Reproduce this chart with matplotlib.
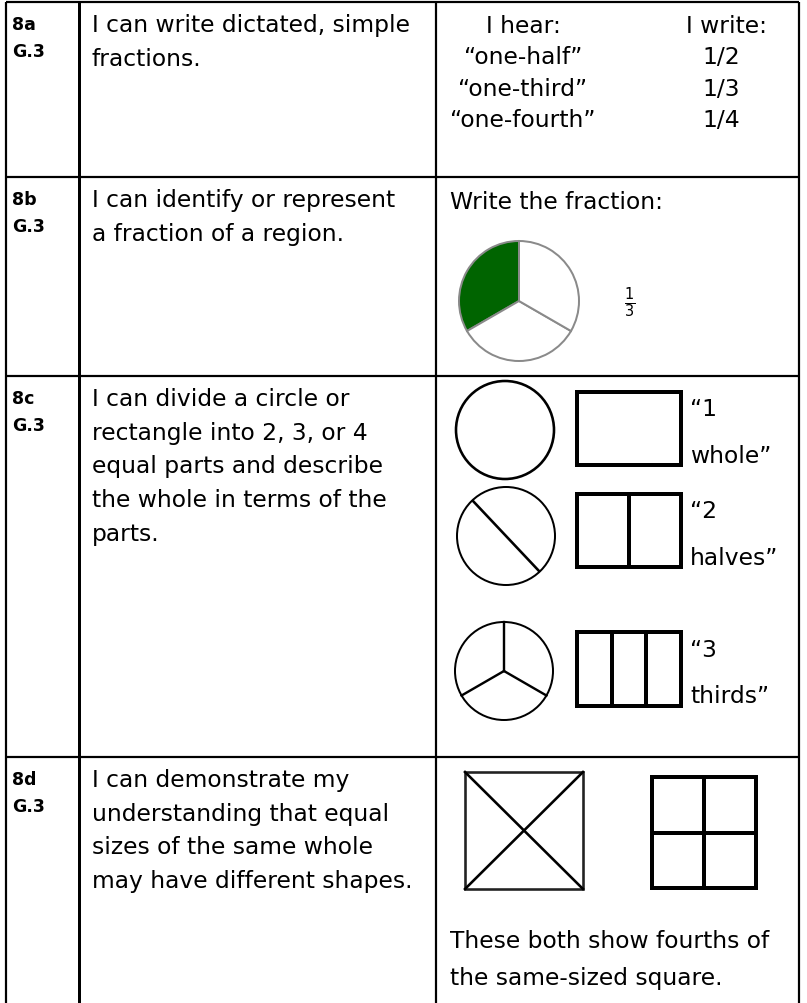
import numpy as np
import matplotlib.pyplot as plt
from matplotlib.patches import Circle, Rectangle, Wedge

# table content
codes = ['8a', '8b', '8c', '8d']
standard = ['G.3', 'G.3', 'G.3', 'G.3']
statements = [
    ['I can write dictated, simple', 'fractions.'],
    ['I can identify or represent', 'a fraction of a region.'],
    ['I can divide a circle or', 'rectangle into 2, 3, or 4',
     'equal parts and describe', 'the whole in terms of the', 'parts.'],
    ['I can demonstrate my', 'understanding that equal',
     'sizes of the same whole', 'may have different shapes.'],
]
heard = ['\u201cone-half\u201d', '\u201cone-third\u201d', '\u201cone-fourth\u201d']
written = ['1/2', '1/3', '1/4']
pie_parts = [1, 1, 1]
pie_shaded = [True, False, False]
part_counts = [1, 2, 3]
part_names = [('\u201c1', 'whole\u201d'), ('\u201c2', 'halves\u201d'), ('\u201c3', 'thirds\u201d')]
note = ['These both show fourths of', 'the same-sized square.']

W, H = 807, 1004
fig = plt.figure(figsize=(W / 100, H / 100), dpi=100)
ax = fig.add_axes([0, 0, 1, 1])
ax.set_xlim(0, W)
ax.set_ylim(H, 0)
ax.axis('off')

px = 0.72  # points per pixel at dpi 100
fs = 16.8
col_x = [6, 79, 436, 799]
row_y = [3, 178, 377, 758, H + 5]

# grid lines
for i, x in enumerate(col_x):
    ax.plot([x, x], [row_y[0], H + 5], color='black', lw=(3 if i == 1 else 2.2) * px,
            solid_capstyle='butt')
for y in row_y[:-1]:
    ax.plot([col_x[0], col_x[-1]], [y, y], color='black', lw=2.2 * px, solid_capstyle='butt')

# left two columns
for r, top in enumerate(row_y[:-1]):
    ax.text(12, top + 27, codes[r], fontsize=12.5, fontweight='bold', va='baseline')
    ax.text(12, top + 54, standard[r], fontsize=12.5, fontweight='bold', va='baseline')
    for k, line in enumerate(statements[r]):
        ax.text(92, top + 29 + k * 33.7, line, fontsize=fs, va='baseline')

# row a: I hear / I write
ax.text(523, 33, 'I hear:', fontsize=fs, ha='center', va='baseline')
ax.text(727, 33, 'I write:', fontsize=fs, ha='center', va='baseline')
for k, (h, w) in enumerate(zip(heard, written)):
    ax.text(523, 64 + k * 31.5, h, fontsize=fs, ha='center', va='baseline')
    ax.text(721, 64 + k * 31.5, w, fontsize=fs, ha='center', va='baseline')

# row b: shaded pie (y axis is inverted, so angles are mirrored)
ax.text(450, 209, 'Write the fraction:', fontsize=fs, va='baseline')
start = 90
total = sum(pie_parts)
for part, shaded in zip(pie_parts, pie_shaded):
    span = 360 * part / total
    ax.add_patch(Wedge((519, 302), 60, -(start + span), -start,
                       facecolor='#006400' if shaded else 'white',
                       edgecolor='#8a8a8a', lw=2 * px))
    start += span
ax.text(630, 303, r'$\frac{1}{3}$', fontsize=15, ha='center', va='center')

# row c: circles and rectangles split into parts
circ_c = [(505, 431), (506, 537), (504, 672)]
rect_y = [(393, 466), (495, 568), (633, 707)]
text_y = [(416, 463), (518, 565), (657, 703)]
for n, (cx, cy), (ry0, ry1), (ty0, ty1), names in zip(part_counts, circ_c, rect_y, text_y, part_names):
    r = 49
    ax.add_patch(Circle((cx, cy), r, fill=False, edgecolor='black',
                        lw=(2.6 if n == 1 else 2.0) * px))
    if n == 2:
        ax.plot([cx - 33, cx + 33], [cy - 35, cy + 35], color='black', lw=2.6 * px)
    elif n == 3:
        for ang in (90, 210, 330):
            a = np.deg2rad(ang)
            ax.plot([cx, cx + r * np.cos(a)], [cy, cy - r * np.sin(a)], color='black', lw=2.4 * px)
    ax.add_patch(Rectangle((577, ry0), 104, ry1 - ry0, fill=False, edgecolor='black', lw=4 * px))
    for j in range(1, n):
        xj = 577 + 104 * j / n
        ax.plot([xj, xj], [ry0, ry1], color='black', lw=4 * px)
    ax.text(690, ty0, names[0], fontsize=fs, va='baseline')
    ax.text(690, ty1, names[1], fontsize=fs, va='baseline')

# row d: two ways to make fourths
ax.add_patch(Rectangle((465, 773), 118, 117, fill=False, edgecolor='#222222', lw=2.6 * px))
ax.plot([465, 583], [773, 890], color='black', lw=2.6 * px)
ax.plot([465, 583], [890, 773], color='black', lw=2.6 * px)
ax.add_patch(Rectangle((652, 778), 104, 111, fill=False, edgecolor='black', lw=4 * px))
ax.plot([704, 704], [778, 889], color='black', lw=4 * px)
ax.plot([652, 756], [833.5, 833.5], color='black', lw=4 * px)
for k, line in enumerate(note):
    ax.text(450, 948 + k * 37, line, fontsize=fs, va='baseline')

fig.savefig('out.png', dpi=100)
